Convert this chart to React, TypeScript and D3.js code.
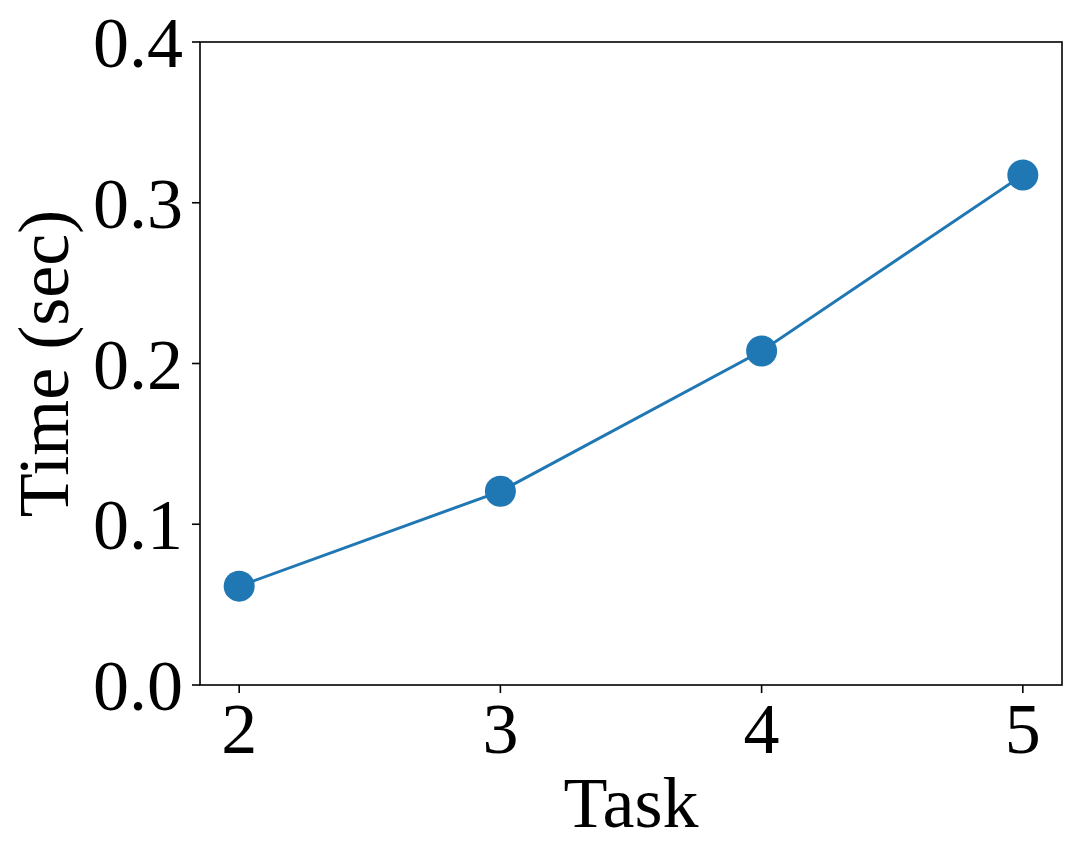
import React from "react";
import * as d3 from "d3";

const tasks = [2, 3, 4, 5];
const times = [0.0615, 0.1205, 0.2078, 0.3173];
const yTicks = [0.0, 0.1, 0.2, 0.3, 0.4];
const xTicks = [2, 3, 4, 5];

const W = 1080;
const H = 861;
const M = { left: 200, right: 1062, top: 42, bottom: 685 };
const FONT = "'Liberation Serif', 'Times New Roman', serif";
const FS = 72;
const COLOR = "#1f77b4";

export default function App() {
  const x = d3.scaleLinear().domain([1.85, 5.15]).range([M.left, M.right]);
  const y = d3.scaleLinear().domain([0, 0.4]).range([M.bottom, M.top]);
  const line = d3
    .line<number>()
    .x((_, i) => x(tasks[i]))
    .y((d) => y(d));

  return (
    <svg
      width={W}
      height={H}
      style={{ position: "absolute", left: 0, top: 0, background: "#fff" }}
      fontFamily={FONT}
    >
      <rect x={0} y={0} width={W} height={H} fill="#fff" />
      <path d={line(times) || ""} fill="none" stroke={COLOR} strokeWidth={3} />
      {times.map((t, i) => (
        <circle key={i} cx={x(tasks[i])} cy={y(t)} r={15.5} fill={COLOR} />
      ))}
      <rect
        x={M.left}
        y={M.top}
        width={M.right - M.left}
        height={M.bottom - M.top}
        fill="none"
        stroke="#000"
        strokeWidth={1.6}
      />
      {yTicks.map((t) => (
        <g key={t}>
          <line x1={M.left - 8} x2={M.left} y1={y(t)} y2={y(t)} stroke="#000" strokeWidth={1.6} />
          <text x={183} y={y(t) + 25} textAnchor="end" fontSize={FS} fill="#000">
            {t.toFixed(1)}
          </text>
        </g>
      ))}
      {xTicks.map((t) => (
        <g key={t}>
          <line x1={x(t)} x2={x(t)} y1={M.bottom} y2={M.bottom + 8} stroke="#000" strokeWidth={1.6} />
          <text x={x(t)} y={753} textAnchor="middle" fontSize={FS} fill="#000">
            {t}
          </text>
        </g>
      ))}
      <text x={(M.left + M.right) / 2} y={827} textAnchor="middle" fontSize={FS} fill="#000">
        Task
      </text>
      <text
        transform={`translate(68, ${(M.top + M.bottom) / 2}) rotate(-90)`}
        textAnchor="middle"
        fontSize={FS}
        fill="#000"
      >
        Time (sec)
      </text>
    </svg>
  );
}
